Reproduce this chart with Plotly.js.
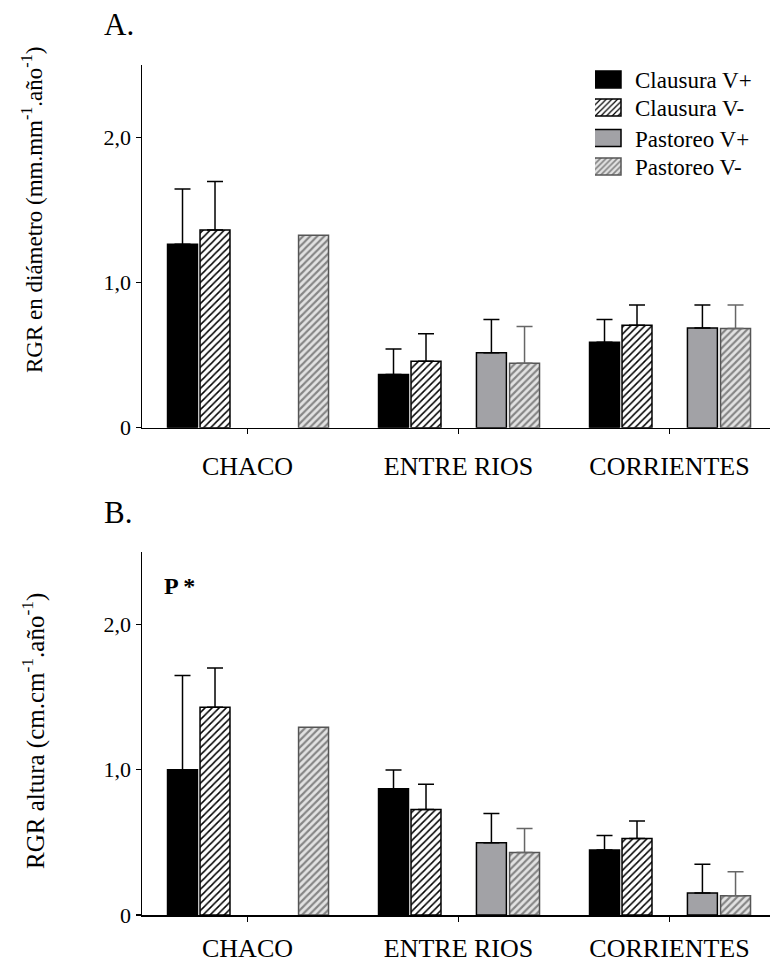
<!DOCTYPE html>
<html>
<head>
<meta charset="utf-8">
<script src="https://cdn.plot.ly/plotly-3.0.1.min.js"></script>
<style>
  html, body { margin: 0; padding: 0; background: #fff; }
  #chart { width: 770px; height: 966px; }
</style>
</head>
<body>
<div id="chart"></div>
<script>
// Sites (x categories)
const categories = ['CHACO', 'ENTRE RIOS', 'CORRIENTES'];
const seriesNames = ['Clausura V+', 'Clausura V-', 'Pastoreo V+', 'Pastoreo V-'];

// A. RGR en diámetro (mean and upper error)
const diamClausuraVmas = [1.265, 0.366, 0.589];
const diamClausuraVmasErr = [0.38, 0.177, 0.156];
const diamClausuraVmenos = [1.363, 0.458, 0.706];
const diamClausuraVmenosErr = [0.334, 0.19, 0.14];
const diamPastoreoVmas = [null, 0.517, 0.688];
const diamPastoreoVmasErr = [null, 0.228, 0.158];
const diamPastoreoVmenos = [1.327, 0.444, 0.683];
const diamPastoreoVmenosErr = [null, 0.253, 0.163];

// B. RGR altura (mean and upper error)
const altClausuraVmas = [1.0, 0.869, 0.448];
const altClausuraVmasErr = [0.648, 0.129, 0.099];
const altClausuraVmenos = [1.43, 0.726, 0.526];
const altClausuraVmenosErr = [0.269, 0.173, 0.12];
const altPastoreoVmas = [null, 0.497, 0.152];
const altPastoreoVmasErr = [null, 0.202, 0.198];
const altPastoreoVmenos = [1.292, 0.43, 0.133];
const altPastoreoVmenosErr = [null, 0.165, 0.164];

// Y tick labels (decimal comma)
const yTickVals = [0, 1, 2];
const yTickText = ['0', '1,0', '2,0'];

const FONT = 'Liberation Serif, Times New Roman, serif';

// Visual style of each series
const styles = [
  { color: 'black', line: 'black', err: 'black', offset: -0.379 },
  { color: 'white', line: 'black', err: 'black', offset: -0.225,
    pattern: { shape: '/', fgcolor: 'black', bgcolor: 'white', size: 5, solidity: 0.3 } },
  { color: '#a2a2a6', line: 'black', err: 'black', offset: 0.085 },
  { color: '#dcdcdc', line: '#555555', err: '#666666', offset: 0.242,
    pattern: { shape: '/', fgcolor: '#858585', bgcolor: '#e2e2e2', size: 5, solidity: 0.42 } }
];
const BAR_W = 0.142;

function makeTrace(i, values, errors, xa, ya, showLegend) {
  const s = styles[i];
  const marker = { color: s.color, line: { color: s.line, width: 1.5 } };
  if (s.pattern) marker.pattern = Object.assign({ fillmode: 'replace' }, s.pattern);
  const plus = errors.map(e => (e === null ? NaN : e));
  const minus = errors.map(e => (e === null ? NaN : 0));
  return {
    type: 'bar',
    name: seriesNames[i],
    legendgroup: seriesNames[i],
    showlegend: showLegend,
    x: categories,
    y: values,
    xaxis: xa, yaxis: ya,
    width: BAR_W,
    offset: s.offset,
    marker: marker,
    error_y: { type: 'data', symmetric: false, array: plus, arrayminus: minus,
               color: s.err, thickness: 1.5, width: 8 },
    hoverinfo: 'x+y+name'
  };
}

const data = [
  makeTrace(0, diamClausuraVmas, diamClausuraVmasErr, 'x', 'y', true),
  makeTrace(1, diamClausuraVmenos, diamClausuraVmenosErr, 'x', 'y', true),
  makeTrace(2, diamPastoreoVmas, diamPastoreoVmasErr, 'x', 'y', true),
  makeTrace(3, diamPastoreoVmenos, diamPastoreoVmenosErr, 'x', 'y', true),
  makeTrace(0, altClausuraVmas, altClausuraVmasErr, 'x2', 'y2', false),
  makeTrace(1, altClausuraVmenos, altClausuraVmenosErr, 'x2', 'y2', false),
  makeTrace(2, altPastoreoVmas, altPastoreoVmasErr, 'x2', 'y2', false),
  makeTrace(3, altPastoreoVmenos, altPastoreoVmenosErr, 'x2', 'y2', false)
];

const W = 770, H = 966;
const plotLeft = 142;
const xDomain = [plotLeft / W, 1];
const xRange = [-0.5, -0.5 + (W - plotLeft) / 211];

function xAxis(anchor, standoff) {
  return {
    anchor: anchor, domain: xDomain, range: xRange, type: 'category',
    showline: true, linecolor: 'black', linewidth: 1.5,
    ticks: 'outside', ticklen: 5, tickwidth: 1, tickcolor: 'black',
    showgrid: false, zeroline: false, fixedrange: true,
    tickfont: { family: FONT, size: 26, color: 'black' },
    ticklabelstandoff: standoff
  };
}
function yAxis(anchor, top, bottom) {
  return {
    anchor: anchor, domain: [1 - bottom / H, 1 - top / H], range: [0, 2.5],
    showline: true, linecolor: 'black', linewidth: 1.5,
    ticks: 'outside', ticklen: 5, tickwidth: 1.5, tickcolor: 'black',
    tickvals: yTickVals, ticktext: yTickText,
    showgrid: false, zeroline: false, fixedrange: true,
    tickfont: { family: FONT, size: 22, color: 'black' }
  };
}

const layout = {
  width: W, height: H,
  margin: { l: 0, r: 0, t: 0, b: 0 },
  paper_bgcolor: 'white', plot_bgcolor: 'white',
  barmode: 'overlay',
  showlegend: true,
  font: { family: FONT, color: 'black' },
  xaxis: xAxis('y', 10),
  yaxis: yAxis('x', 65, 427.7),
  xaxis2: xAxis('y2', 4),
  yaxis2: yAxis('x2', 551.7, 915),
  legend: {
    x: 595 / W, xanchor: 'left', y: 1 - 58 / H, yanchor: 'top',
    bgcolor: 'rgba(0,0,0,0)', borderwidth: 0,
    font: { family: FONT, size: 23, color: 'black' },
    tracegroupgap: 0, itemclick: false, itemdoubleclick: false
  },
  annotations: [
    { text: 'A.', xref: 'paper', yref: 'paper', x: 102 / W, y: 1 - 24 / H,
      xanchor: 'left', yanchor: 'middle', showarrow: false,
      font: { family: FONT, size: 31, color: 'black' } },
    { text: 'B.', xref: 'paper', yref: 'paper', x: 102 / W, y: 1 - 512 / H,
      xanchor: 'left', yanchor: 'middle', showarrow: false,
      font: { family: FONT, size: 31, color: 'black' } },
    { text: 'RGR en diámetro (mm.mm<sup>-1</sup>.año<sup>-1</sup>)',
      xref: 'paper', yref: 'paper', x: 33 / W, y: 1 - 210 / H, textangle: -90,
      xanchor: 'center', yanchor: 'middle', showarrow: false,
      font: { family: FONT, size: 23, color: 'black' } },
    { text: 'RGR altura (cm.cm<sup>-1</sup>.año<sup>-1</sup>)',
      xref: 'paper', yref: 'paper', x: 33 / W, y: 1 - 731 / H, textangle: -90,
      xanchor: 'center', yanchor: 'middle', showarrow: false,
      font: { family: FONT, size: 25, color: 'black' } },
    { text: '<b>P *</b>', xref: 'paper', yref: 'paper', x: 162 / W, y: 1 - 586 / H,
      xanchor: 'left', yanchor: 'middle', showarrow: false,
      font: { family: FONT, size: 24, color: 'black' } }
  ]
};

// Row offsets of the legend entries (px, relative to the first entry)
const legendRowOffsets = [0, 28, 58.6, 87];

Plotly.newPlot('chart', data, layout, { displayModeBar: false, staticPlot: true }).then(function () {
  // Wider rectangular legend swatches
  document.querySelectorAll('.legend g.legendpoints path').forEach(function (p) {
    p.setAttribute('d', 'M-22,-8.5H6V8.5H-22Z');
  });
  // Tighter legend row spacing
  const items = document.querySelectorAll('.legend g.traces');
  let x0 = 0, y0 = null;
  items.forEach(function (g, i) {
    const m = /translate\(\s*([-\d.]+)[ ,]+([-\d.]+)\s*\)/.exec(g.getAttribute('transform') || '');
    if (!m) return;
    if (y0 === null) { x0 = parseFloat(m[1]); y0 = parseFloat(m[2]); }
    g.setAttribute('transform', 'translate(' + x0 + ',' + (y0 + legendRowOffsets[i]) + ')');
  });
});
</script>
</body>
</html>
